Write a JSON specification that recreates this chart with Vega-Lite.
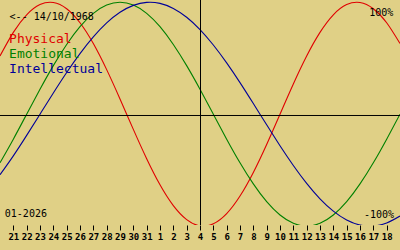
{
  "$schema": "https://vega.github.io/schema/vega-lite/v6.json",
  "width": 400,
  "height": 225,
  "autosize": {"type": "none"},
  "padding": {"left": 0, "top": 0, "right": 0, "bottom": 25},
  "background": "#e0d086",
  "config": {"view": {"stroke": null}},
  "encoding": {
    "x": {
      "type": "quantitative",
      "scale": {"domain": [-1, 29], "nice": false, "zero": false},
      "axis": {
        "title": null,
        "values": [0,1,2,3,4,5,6,7,8,9,10,11,12,13,14,15,16,17,18,19,20,21,22,23,24,25,26,27,28],
        "labelExpr": "datum.value < 11 ? datum.value + 21 : datum.value - 10",
        "domain": false,
        "grid": false,
        "ticks": true,
        "tickColor": "black",
        "tickSize": 5,
        "tickWidth": 1,
        "labelColor": "black",
        "labelFont": "DejaVu Sans Mono",
        "labelFontSize": 9,
        "labelFontWeight": "bold",
        "labelPadding": 2,
        "labelFlush": false,
        "labelOverlap": false
      }
    },
    "y": {
      "type": "quantitative",
      "scale": {"domain": [-0.99, 1.02], "nice": false, "zero": false},
      "axis": null
    }
  },
  "layer": [
    {
      "data": {
        "values": [
          {"d": -1, "Physical": 0.520, "Emotional": -0.434, "Intellectual": -0.541},
          {"d": 0, "Physical": 0.731, "Emotional": -0.223, "Intellectual": -0.372},
          {"d": 1, "Physical": 0.888, "Emotional": 0, "Intellectual": -0.189},
          {"d": 2, "Physical": 0.979, "Emotional": 0.223, "Intellectual": 0},
          {"d": 3, "Physical": 0.998, "Emotional": 0.434, "Intellectual": 0.189},
          {"d": 4, "Physical": 0.942, "Emotional": 0.623, "Intellectual": 0.372},
          {"d": 5, "Physical": 0.817, "Emotional": 0.782, "Intellectual": 0.541},
          {"d": 6, "Physical": 0.631, "Emotional": 0.901, "Intellectual": 0.690},
          {"d": 7, "Physical": 0.398, "Emotional": 0.975, "Intellectual": 0.815},
          {"d": 8, "Physical": 0.136, "Emotional": 1, "Intellectual": 0.910},
          {"d": 9, "Physical": -0.136, "Emotional": 0.975, "Intellectual": 0.972},
          {"d": 10, "Physical": -0.398, "Emotional": 0.901, "Intellectual": 0.999},
          {"d": 11, "Physical": -0.631, "Emotional": 0.782, "Intellectual": 0.990},
          {"d": 12, "Physical": -0.817, "Emotional": 0.623, "Intellectual": 0.945},
          {"d": 13, "Physical": -0.942, "Emotional": 0.434, "Intellectual": 0.866},
          {"d": 14, "Physical": -0.998, "Emotional": 0.223, "Intellectual": 0.756},
          {"d": 15, "Physical": -0.979, "Emotional": 0, "Intellectual": 0.618},
          {"d": 16, "Physical": -0.888, "Emotional": -0.223, "Intellectual": 0.458},
          {"d": 17, "Physical": -0.731, "Emotional": -0.434, "Intellectual": 0.282},
          {"d": 18, "Physical": -0.520, "Emotional": -0.623, "Intellectual": 0.095},
          {"d": 19, "Physical": -0.270, "Emotional": -0.782, "Intellectual": -0.095},
          {"d": 20, "Physical": 0, "Emotional": -0.901, "Intellectual": -0.282},
          {"d": 21, "Physical": 0.270, "Emotional": -0.975, "Intellectual": -0.458},
          {"d": 22, "Physical": 0.520, "Emotional": -1, "Intellectual": -0.618},
          {"d": 23, "Physical": 0.731, "Emotional": -0.975, "Intellectual": -0.756},
          {"d": 24, "Physical": 0.888, "Emotional": -0.901, "Intellectual": -0.866},
          {"d": 25, "Physical": 0.979, "Emotional": -0.782, "Intellectual": -0.945},
          {"d": 26, "Physical": 0.998, "Emotional": -0.623, "Intellectual": -0.990},
          {"d": 27, "Physical": 0.942, "Emotional": -0.434, "Intellectual": -0.999},
          {"d": 28, "Physical": 0.817, "Emotional": -0.223, "Intellectual": -0.972},
          {"d": 29, "Physical": 0.631, "Emotional": 0, "Intellectual": -0.910}
        ]
      },
      "transform": [{"fold": ["Physical", "Emotional", "Intellectual"], "as": ["series", "v"]}],
      "mark": {"type": "line", "interpolate": "natural", "strokeWidth": 1.1, "clip": true},
      "encoding": {
        "x": {"field": "d", "type": "quantitative"},
        "y": {"field": "v", "type": "quantitative"},
        "color": {
          "field": "series",
          "type": "nominal",
          "scale": {"domain": ["Physical", "Emotional", "Intellectual"], "range": ["#e00000", "#008000", "#000098"]},
          "legend": null
        }
      }
    },
    {
      "data": {"values": [{}]},
      "mark": {"type": "rule", "color": "black", "strokeWidth": 1, "xOffset": 0.5},
      "encoding": {"x": {"datum": 14}}
    },
    {
      "data": {"values": [{}]},
      "mark": {"type": "rule", "color": "black", "strokeWidth": 1, "yOffset": 1.32},
      "encoding": {"y": {"datum": 0}}
    },
    {
      "data": {"values": [{}]},
      "mark": {"type": "text", "text": "<-- 14/10/1968", "font": "DejaVu Sans Mono", "fontSize": 10, "align": "left", "baseline": "alphabetic", "color": "black"},
      "encoding": {"x": {"datum": -0.28}, "y": {"datum": 0.84}}
    },
    {
      "data": {"values": [{}]},
      "mark": {"type": "text", "text": "Physical", "font": "DejaVu Sans Mono", "fontSize": 13, "align": "left", "baseline": "alphabetic", "color": "#e00000"},
      "encoding": {"x": {"datum": -0.32}, "y": {"datum": 0.633}}
    },
    {
      "data": {"values": [{}]},
      "mark": {"type": "text", "text": "Emotional", "font": "DejaVu Sans Mono", "fontSize": 13, "align": "left", "baseline": "alphabetic", "color": "#008000"},
      "encoding": {"x": {"datum": -0.32}, "y": {"datum": 0.499}}
    },
    {
      "data": {"values": [{}]},
      "mark": {"type": "text", "text": "Intellectual", "font": "DejaVu Sans Mono", "fontSize": 13, "align": "left", "baseline": "alphabetic", "color": "#000098"},
      "encoding": {"x": {"datum": -0.32}, "y": {"datum": 0.365}}
    },
    {
      "data": {"values": [{}]},
      "mark": {"type": "text", "text": "100%", "font": "DejaVu Sans Mono", "fontSize": 10, "align": "right", "baseline": "alphabetic", "color": "black"},
      "encoding": {"x": {"datum": 28.5}, "y": {"datum": 0.875}}
    },
    {
      "data": {"values": [{}]},
      "mark": {"type": "text", "text": "-100%", "font": "DejaVu Sans Mono", "fontSize": 10, "align": "right", "baseline": "alphabetic", "color": "black"},
      "encoding": {"x": {"datum": 28.55}, "y": {"datum": -0.924}}
    },
    {
      "data": {"values": [{}]},
      "mark": {"type": "text", "text": "01-2026", "font": "DejaVu Sans Mono", "fontSize": 10, "align": "left", "baseline": "alphabetic", "color": "black"},
      "encoding": {"x": {"datum": -0.64}, "y": {"datum": -0.915}}
    }
  ]
}
